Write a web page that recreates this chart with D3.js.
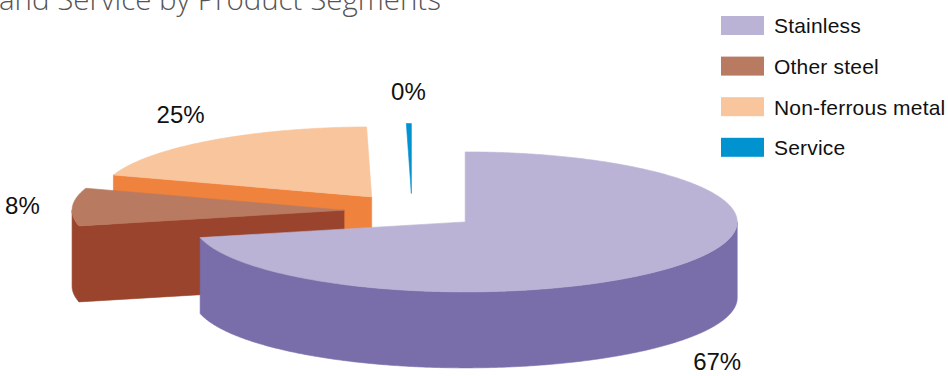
<!DOCTYPE html>
<html>
<head>
<meta charset="utf-8">
<script src="https://cdn.jsdelivr.net/npm/d3@7"></script>
<style>
  html, body { margin: 0; padding: 0; background: #fff; }
  svg { display: block; }
</style>
</head>
<body>
<svg id="chart" width="948" height="376"></svg>
<script>
// Revenue share by product segment (percent)
const segments = ["Stainless", "Other steel", "Non-ferrous metal", "Service"];
const shares = [67, 8, 25, 0.45];
const titleText = "and Service by Product Segments";

// Face colours: lit top and shaded walls
const topColor = d3.scaleOrdinal(segments, ["#BBB3D5", "#B97A62", "#F8C59C", "#0093D0"]);
const wallColor = d3.scaleOrdinal(segments, ["#796DAA", "#9A442E", "#EF823C", "#0078B2"]);

const svg = d3.select("#chart");

// Tilted-disc geometry
const cx = 412, cy = 211;      // disc centre on screen
const rx = 272, ry = 70;       // projected radii
const depth = 76;              // wall height
const explode = 68;            // slice pull-out distance
const tilt = ry / rx;
const skew = 19.5 * Math.PI / 180;   // angular foreshortening of the tilted view
const view = a => a - skew * Math.sin(a);

const data = segments.map((name, i) => ({ name, value: shares[i] }));
const total = d3.sum(shares);
const pct = d3.format(".0%");

const pie = d3.pie().sort(null).value(d => d.value).startAngle(0).endAngle(2 * Math.PI);

const slices = pie(data).map(d => {
  const a0 = view(d.startAngle), a1 = view(d.endAngle), mid = (a0 + a1) / 2;
  return {
    ...d, a0, a1, mid,
    ox: cx + explode * Math.sin(mid),
    oy: cy - explode * tilt * Math.cos(mid)
  };
});

const rim = (s, a, h = 0) => [s.ox + rx * Math.sin(a), s.oy - ry * Math.cos(a) + h];
const sweep = (lo, hi) => {
  const n = Math.max(2, Math.ceil((hi - lo) / 0.01));
  return d3.range(n + 1).map(i => lo + (hi - lo) * i / n);
};
const line = d3.line().curve(d3.curveLinearClosed);

// Back slices first, so nearer ones cover them
const order = slices.slice().sort((a, b) => a.oy - b.oy);

const pieG = svg.append("g");
order.forEach(s => {
  const g = pieG.append("g");
  const wall = wallColor(s.data.name);
  const faces = [];

  // cut face at the start edge (faces the viewer when sin < 0)
  if (Math.sin(s.a0) < -0.05) {
    const p = rim(s, s.a0);
    faces.push([[s.ox, s.oy], p, [p[0], p[1] + depth], [s.ox, s.oy + depth]]);
  }
  // cut face at the end edge (faces the viewer when sin > 0)
  if (Math.sin(s.a1) > 0.05) {
    const p = rim(s, s.a1);
    faces.push([[s.ox, s.oy], p, [p[0], p[1] + depth], [s.ox, s.oy + depth]]);
  }
  // outer wall: the front half of the rim
  const lo = Math.max(s.a0, Math.PI / 2), hi = Math.min(s.a1, 3 * Math.PI / 2);
  if (hi > lo) {
    const as = sweep(lo, hi);
    faces.push(as.map(a => rim(s, a)).concat(as.slice().reverse().map(a => rim(s, a, depth))));
  }
  faces.forEach(f => {
    g.append("path").attr("d", line(f))
      .attr("fill", wall).attr("stroke", wall).attr("stroke-width", 0.6)
      .attr("stroke-linejoin", "round");
  });

  // top face
  const top = [[s.ox, s.oy]].concat(sweep(s.a0, s.a1).map(a => rim(s, a)));
  const tc = topColor(s.data.name);
  g.append("path").attr("d", line(top))
    .attr("fill", tc).attr("stroke", tc).attr("stroke-width", 0.6)
    .attr("stroke-linejoin", "round");
});

// Percentage labels just outside each slice
const padX = 50, padY = 32;
svg.append("g")
  .selectAll("text")
  .data(slices)
  .join("text")
  .attr("x", s => s.ox + (rx + padX) * Math.sin(s.mid))
  .attr("y", s => s.oy - (ry + padY) * Math.cos(s.mid) + (Math.cos(s.mid) < 0 ? depth : 0))
  .attr("dy", "0.36em")
  .attr("text-anchor", "middle")
  .attr("font-family", "'Liberation Sans', Arial, Helvetica, sans-serif")
  .attr("font-size", 24)
  .attr("fill", "#111")
  .text(s => pct(s.data.value / total));

// Legend
const legendY = d3.scalePoint().domain(segments).range([16, 137.8]);
const legend = svg.append("g")
  .selectAll("g")
  .data(segments)
  .join("g")
  .attr("transform", d => `translate(721,${legendY(d)})`);
legend.append("rect")
  .attr("width", 43).attr("height", 19)
  .attr("fill", d => topColor(d));
legend.append("text")
  .attr("x", 53).attr("y", 17.4)
  .attr("font-family", "'Liberation Sans', Arial, Helvetica, sans-serif")
  .attr("font-size", 21)
  .attr("letter-spacing", 0.2)
  .attr("fill", "#111")
  .text(d => d);

// Title line (upper part runs off the top edge)
const title = svg.append("text")
  .attr("x", -1).attr("y", 10)
  .attr("font-family", "'Open Sans', Lato, sans-serif")
  .attr("font-weight", 300)
  .attr("font-size", 30)
  .attr("fill", "#555")
  .text(titleText);
const tw = title.node().getComputedTextLength();
title.attr("font-size", 30 * 442 / tw);
</script>
</body>
</html>
